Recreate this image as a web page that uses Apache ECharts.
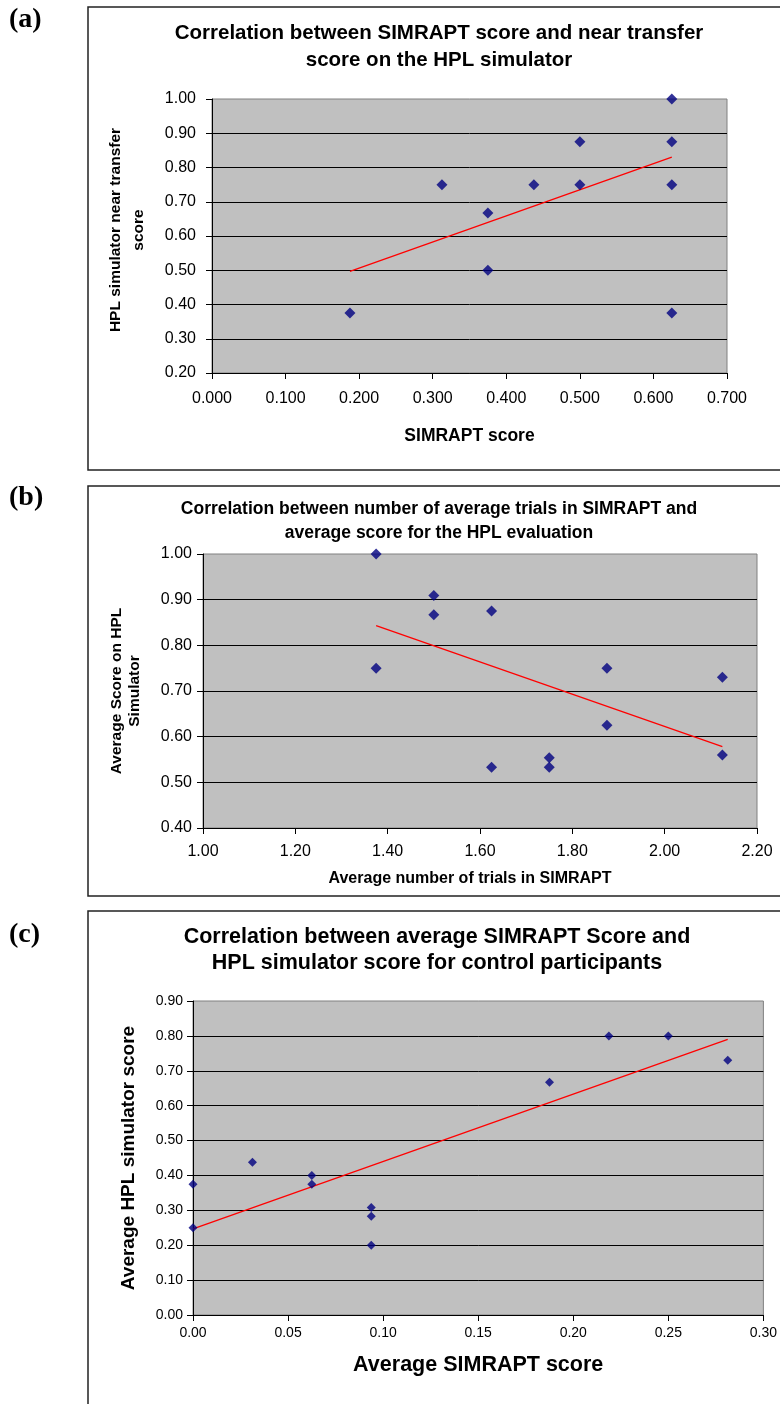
<!DOCTYPE html>
<html>
<head>
<meta charset="utf-8">
<script src="https://cdn.jsdelivr.net/npm/echarts@6/dist/echarts.min.js"></script>
<style>
  html, body { margin: 0; padding: 0; background: #fff; }
  #main { width: 780px; height: 1404px; }
</style>
</head>
<body>
<div id="main"></div>
<script>
// (a) SIMRAPT score vs near transfer score
const aSimrapt = [0.1875, 0.3125, 0.375, 0.375, 0.4375, 0.5, 0.5, 0.625, 0.625, 0.625, 0.625]
const aNearTransfer = [0.375, 0.75, 0.667, 0.5, 0.75, 0.875, 0.75, 1.0, 0.875, 0.75, 0.375]
const aTrendX = [0.1875, 0.625]
const aTrendY = [0.497, 0.830]

// (b) average trials vs average HPL score
const bTrials = [1.375, 1.375, 1.5, 1.5, 1.625, 1.625, 1.75, 1.75, 1.875, 1.875, 2.125, 2.125]
const bHplScore = [1.0, 0.75, 0.909, 0.867, 0.875, 0.533, 0.554, 0.533, 0.75, 0.625, 0.73, 0.56]
const bTrendX = [1.375, 2.125]
const bTrendY = [0.843, 0.578]

// (c) control participants
const cSimrapt = [0, 0, 0.03125, 0.0625, 0.0625, 0.09375, 0.09375, 0.09375, 0.1875, 0.21875, 0.25, 0.28125]
const cHplScore = [0.375, 0.25, 0.4375, 0.4, 0.375, 0.308, 0.283, 0.2, 0.667, 0.8, 0.8, 0.73]
const cTrendX = [0, 0.28125]
const cTrendY = [0.247, 0.79]

const zip = (xs, ys) => xs.map((x, i) => [x, ys[i]])

const FONT = 'Liberation Sans'
const navy = '#000080'

function xAxisCfg(grid, name, min, max, interval, digits, o) {
  return {
    type: 'value', gridIndex: grid, min: min, max: max, interval: interval,
    name: name, nameLocation: 'middle', nameGap: o.nameGap,
    nameTextStyle: { fontFamily: FONT, fontWeight: 'bold', fontSize: o.nameSize, color: '#000',
      padding: o.namePad || 0 },
    axisLine: { show: true, lineStyle: { color: '#000', width: 1 } },
    axisTick: { show: true, length: 6, lineStyle: { color: '#000' } },
    axisLabel: { fontFamily: FONT, fontSize: o.labelSize, color: '#000', margin: o.margin,
      formatter: v => v.toFixed(digits) },
    splitLine: { show: false }
  }
}

function yAxisCfg(grid, name, min, max, interval, o) {
  return {
    type: 'value', gridIndex: grid, min: min, max: max, interval: interval,
    name: name, nameLocation: 'middle', nameGap: o.nameGap, nameRotate: 90,
    nameTextStyle: { fontFamily: FONT, fontWeight: 'bold', fontSize: o.nameSize, color: '#000',
      lineHeight: o.nameLH, align: 'center', padding: o.namePad || 0 },
    axisLine: { show: true, lineStyle: { color: '#000', width: 1 } },
    axisTick: { show: true, length: 6, lineStyle: { color: '#000' } },
    axisLabel: { fontFamily: FONT, fontSize: o.labelSize, color: '#000', margin: o.margin,
      formatter: v => v.toFixed(2) },
    splitLine: { show: true, showMaxLine: false, lineStyle: { color: '#000', width: 1 } }
  }
}

function scatter(i, data, size) {
  return {
    type: 'scatter', xAxisIndex: i, yAxisIndex: i, data: data, clip: false,
    symbol: 'diamond', symbolSize: size, itemStyle: { color: navy }, z: 3
  }
}

function trend(i, data) {
  return {
    type: 'line', xAxisIndex: i, yAxisIndex: i, data: data, showSymbol: false, symbol: 'none',
    lineStyle: { color: '#ff0000', width: 1.3 }, z: 2, silent: true
  }
}

function panelLabel(txt, y) {
  return {
    type: 'text', left: 9, top: y,
    style: { text: txt, font: 'bold 28px "Liberation Serif"', fill: '#000' }
  }
}

function boxRect(y, h) {
  return {
    type: 'rect', shape: { x: 88, y: y, width: 720, height: h },
    style: { fill: null, stroke: '#222', lineWidth: 1.5 }, z: -1
  }
}

const gridStyle = { show: true, backgroundColor: '#c0c0c0', borderColor: '#808080', borderWidth: 1 }

let myChart = echarts.init(document.getElementById('main'), null, { renderer: 'canvas' })

let option = {
  backgroundColor: '#fff',
  animation: false,
  title: [
    {
      text: 'Correlation between SIMRAPT score and near transfer\nscore on the HPL simulator',
      left: 439, top: 20, textAlign: 'center', padding: 0,
      textStyle: { fontFamily: FONT, fontWeight: 'bold', fontSize: 20.5, lineHeight: 27, color: '#000' }
    },
    {
      text: 'Correlation between number of average trials in SIMRAPT and\naverage score for the HPL evaluation',
      left: 439, top: 497, textAlign: 'center', padding: 0,
      textStyle: { fontFamily: FONT, fontWeight: 'bold', fontSize: 17.5, lineHeight: 24, color: '#000' }
    },
    {
      text: 'Correlation between average SIMRAPT Score and\nHPL simulator score for control participants',
      left: 437, top: 924, textAlign: 'center', padding: 0,
      textStyle: { fontFamily: FONT, fontWeight: 'bold', fontSize: 21.5, lineHeight: 26, color: '#000' }
    }
  ],
  grid: [
    Object.assign({ left: 212, top: 99, width: 515, height: 274 }, gridStyle),
    Object.assign({ left: 203, top: 554, width: 554, height: 274 }, gridStyle),
    Object.assign({ left: 193, top: 1001, width: 579, height: 314 }, gridStyle)
  ],
  xAxis: [
    xAxisCfg(0, 'SIMRAPT score', 0, 0.7, 0.1, 3, { nameGap: 54, nameSize: 17.5, labelSize: 16, margin: 18 }),
    xAxisCfg(1, 'Average number of trials in SIMRAPT', 1.0, 2.2, 0.2, 2, { nameGap: 43, nameSize: 16, labelSize: 16, margin: 16, namePad: [0, 20, 0, 0] }),
    xAxisCfg(2, 'Average SIMRAPT score', 0, 0.3, 0.05, 2, { nameGap: 39, nameSize: 21.5, labelSize: 14, margin: 11 })
  ],
  yAxis: [
    yAxisCfg(0, 'HPL simulator near transfer\nscore', 0.2, 1.0, 0.1, { nameGap: 62, nameSize: 15.5, nameLH: 23, labelSize: 16, margin: 16, namePad: [0, 0, 0, 12] }),
    yAxisCfg(1, 'Average Score on HPL\nSimulator', 0.4, 1.0, 0.1, { nameGap: 59, nameSize: 15.5, nameLH: 18, labelSize: 16, margin: 11 }),
    yAxisCfg(2, 'Average HPL simulator score', 0, 0.9, 0.1, { nameGap: 53, nameSize: 19, nameLH: 22, labelSize: 14, margin: 10 })
  ],
  series: [
    scatter(0, zip(aSimrapt, aNearTransfer), 11),
    trend(0, zip(aTrendX, aTrendY)),
    scatter(1, zip(bTrials, bHplScore), 11),
    trend(1, zip(bTrendX, bTrendY)),
    scatter(2, zip(cSimrapt, cHplScore), 9),
    trend(2, zip(cTrendX, cTrendY))
  ],
  graphic: [
    boxRect(7, 463),
    boxRect(486, 410),
    boxRect(911, 520),
    panelLabel('(a)', 6),
    panelLabel('(b)', 484),
    panelLabel('(c)', 921)
  ]
}

myChart.setOption(option)
window.addEventListener('resize', () => { myChart.resize() })
</script>
</body>
</html>
